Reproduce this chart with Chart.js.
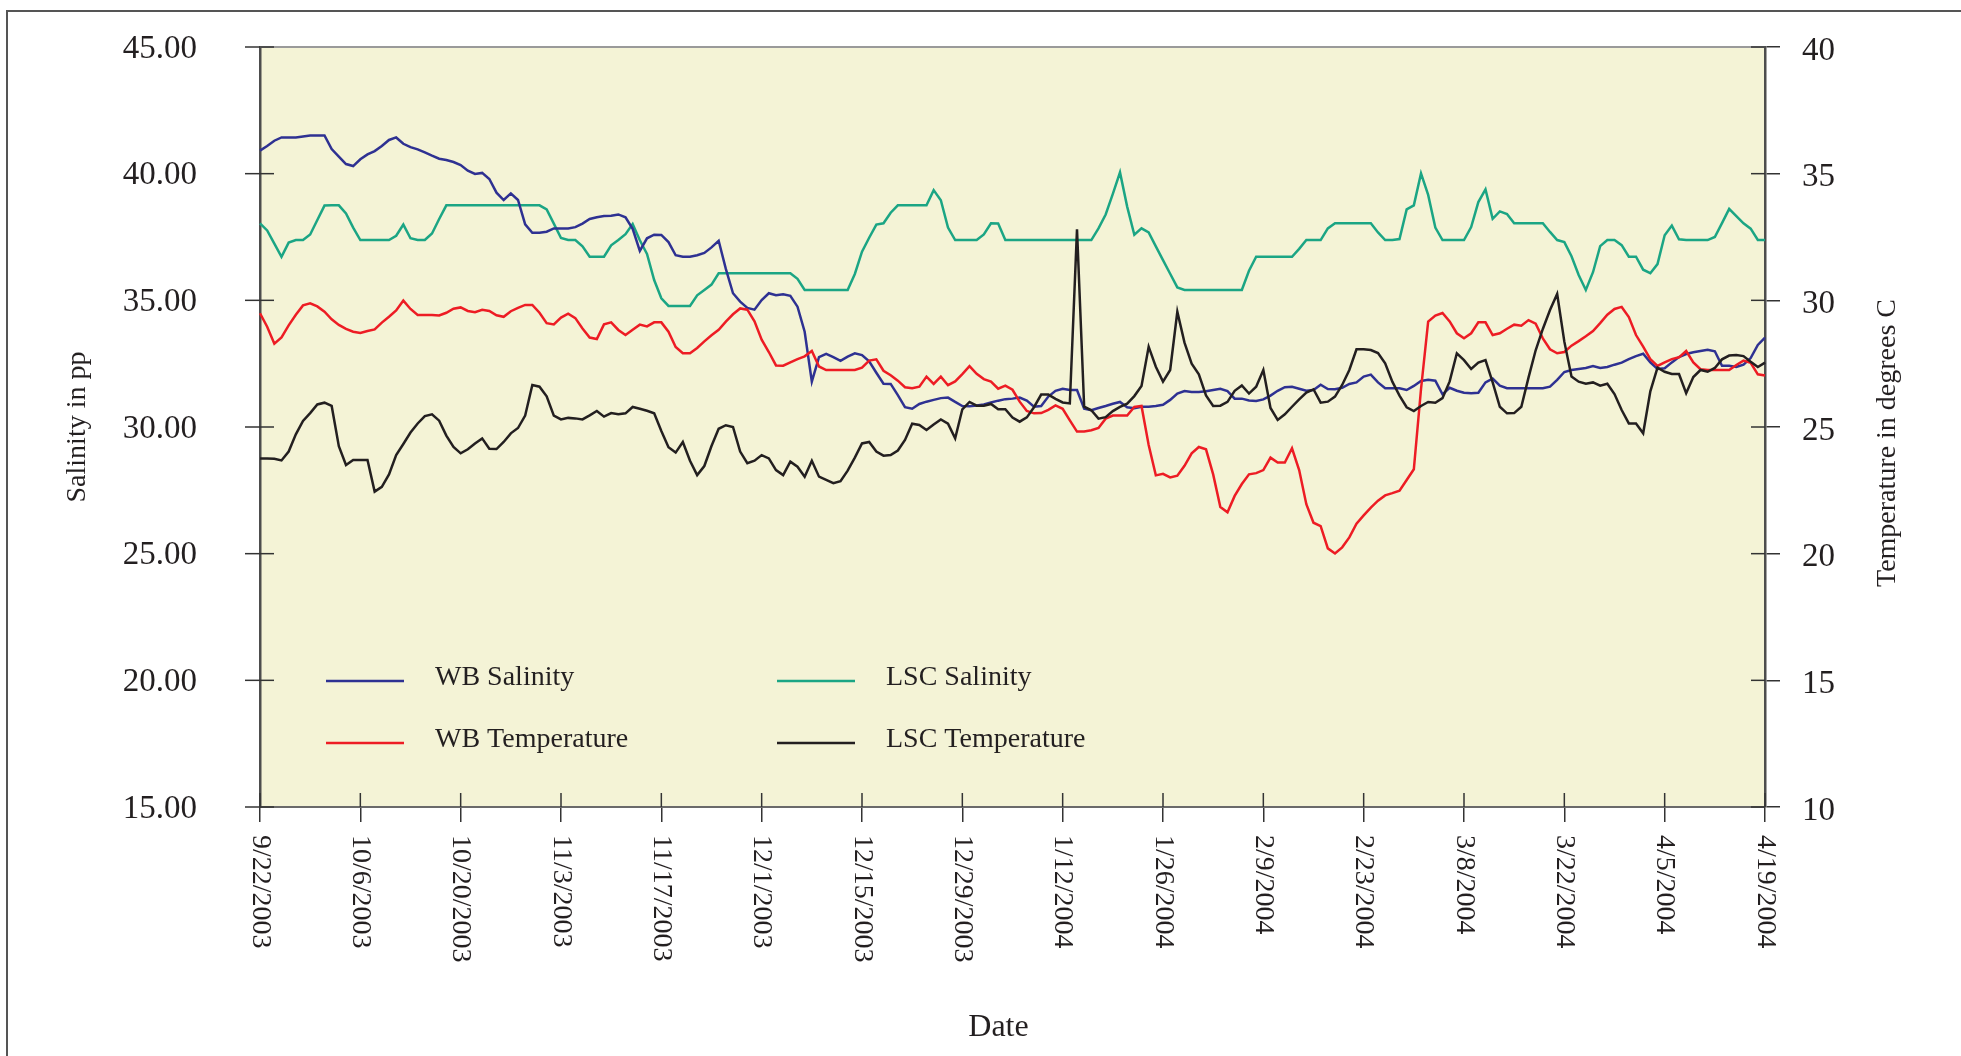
<!DOCTYPE html>
<html>
<head>
<meta charset="utf-8">
<title>WB and LSC salinity and temperature</title>
<script src="https://cdn.jsdelivr.net/npm/chart.js@4.4.1/dist/chart.umd.min.js"></script>
<style>
  html, body { margin: 0; padding: 0; background: #fff; overflow: hidden; }
  .frame { position: absolute; left: 6px; top: 10px; width: 2000px; height: 1100px; border: 2px solid #555; box-sizing: border-box; }
  canvas { position: absolute; left: 0; top: 0; }
</style>
</head>
<body>
<div class="frame"></div>
<canvas id="chart" width="1961" height="1056"></canvas>
<script>
// one value per day, 9/22/2003 .. 4/19/2004
const tickLabels = ['9/22/2003', '10/6/2003', '10/20/2003', '11/3/2003', '11/17/2003', '12/1/2003',
  '12/15/2003', '12/29/2003', '1/12/2004', '1/26/2004', '2/9/2004', '2/23/2004', '3/8/2004',
  '3/22/2004', '4/5/2004', '4/19/2004'];
const tickEvery = 14; // days between labels

const wbSalinity = [
  40.91, 41.09, 41.30, 41.43, 41.43, 41.43, 41.47, 41.51, 41.51, 41.51,
  40.97, 40.67, 40.38, 40.30, 40.57, 40.76, 40.89, 41.09, 41.33, 41.43,
  41.18, 41.05, 40.96, 40.84, 40.71, 40.59, 40.54, 40.46, 40.34, 40.12,
  39.99, 40.03, 39.79, 39.25, 38.96,
  39.22, 38.96, 38.00, 37.67, 37.67, 37.71, 37.84, 37.84, 37.84, 37.89,
  38.03, 38.21, 38.28, 38.33, 38.34, 38.39, 38.28, 37.82, 36.95, 37.45,
  37.59, 37.58, 37.30, 36.78, 36.72, 36.72, 36.78, 36.87, 37.09, 37.35,
  36.24, 35.28, 34.95, 34.70, 34.63,
  35.01, 35.28, 35.20, 35.24, 35.18, 34.75, 33.76, 31.79, 32.76, 32.89,
  32.76, 32.61, 32.78, 32.91, 32.84, 32.59, 32.14, 31.71, 31.70, 31.26,
  30.78, 30.72, 30.91, 31.00, 31.07, 31.14, 31.16, 30.99, 30.83, 30.82,
  30.85, 30.89, 30.97, 31.04, 31.10,
  31.12, 31.16, 31.04, 30.80, 30.83, 31.20, 31.43, 31.51, 31.46, 31.46,
  30.72, 30.66, 30.75, 30.83, 30.92, 30.99, 30.78, 30.74, 30.80, 30.80,
  30.83, 30.88, 31.07, 31.32, 31.42, 31.38, 31.38, 31.41, 31.46, 31.51,
  31.42, 31.12, 31.12, 31.05, 31.03,
  31.09, 31.24, 31.43, 31.57, 31.59, 31.51, 31.43, 31.46, 31.67, 31.50,
  31.49, 31.55, 31.70, 31.76, 31.99, 32.07, 31.76, 31.53, 31.53, 31.53,
  31.46, 31.62, 31.82, 31.86, 31.83, 31.29, 31.55, 31.43, 31.35, 31.33,
  31.35, 31.76, 31.91, 31.63, 31.53,
  31.53, 31.53, 31.53, 31.53, 31.53, 31.59, 31.86, 32.17, 32.25, 32.29,
  32.33, 32.41, 32.33, 32.37, 32.46, 32.54, 32.68, 32.80, 32.89, 32.55,
  32.29, 32.32, 32.55, 32.76, 32.88, 32.95, 33.00, 33.05, 32.99, 32.42,
  32.42, 32.37, 32.46, 32.72, 33.24, 33.53
];

const lscSalinity = [
  38.04, 37.76, 37.24, 36.72, 37.28, 37.38, 37.38, 37.60, 38.17, 38.74,
  38.75, 38.75, 38.43, 37.87, 37.38, 37.38, 37.38, 37.38, 37.38, 37.55,
  37.99, 37.45, 37.38, 37.38, 37.64, 38.21, 38.75, 38.75, 38.75, 38.75,
  38.75, 38.75, 38.75, 38.75, 38.75,
  38.75, 38.75, 38.75, 38.75, 38.75, 38.59, 38.03, 37.46, 37.38, 37.38,
  37.13, 36.72, 36.72, 36.72, 37.17, 37.38, 37.61, 38.01, 37.37, 36.83,
  35.80, 35.08, 34.78, 34.78, 34.78, 34.78, 35.20, 35.41, 35.62, 36.07,
  36.07, 36.07, 36.07, 36.07, 36.07,
  36.07, 36.07, 36.07, 36.07, 36.07, 35.85, 35.41, 35.41, 35.41, 35.41,
  35.41, 35.41, 35.41, 36.04, 36.92, 37.47, 37.99, 38.04, 38.46, 38.75,
  38.75, 38.75, 38.75, 38.75, 39.35, 38.95, 37.87, 37.38, 37.38, 37.38,
  37.38, 37.60, 38.04, 38.03, 37.38,
  37.38, 37.38, 37.38, 37.38, 37.38, 37.38, 37.38, 37.38, 37.38, 37.38,
  37.38, 37.38, 37.84, 38.39, 39.20, 40.05, 38.70, 37.59, 37.84, 37.68,
  37.13, 36.59, 36.05, 35.51, 35.41, 35.41, 35.41, 35.41, 35.41, 35.41,
  35.41, 35.41, 35.41, 36.17, 36.72,
  36.72, 36.72, 36.72, 36.72, 36.72, 37.03, 37.38, 37.38, 37.38, 37.84,
  38.04, 38.04, 38.04, 38.04, 38.04, 38.04, 37.68, 37.38, 37.38, 37.42,
  38.59, 38.75, 40.01, 39.16, 37.87, 37.38, 37.38, 37.38, 37.38, 37.89,
  38.88, 39.38, 38.22, 38.51, 38.41,
  38.04, 38.04, 38.04, 38.04, 38.04, 37.70, 37.38, 37.30, 36.74, 36.00,
  35.41, 36.11, 37.14, 37.38, 37.38, 37.18, 36.72, 36.72, 36.21, 36.07,
  36.43, 37.57, 37.95, 37.41, 37.38, 37.38, 37.38, 37.38, 37.50, 38.05,
  38.61, 38.32, 38.04, 37.83, 37.38, 37.38
];

const wbTemperature = [
  29.49, 28.96, 28.29, 28.54, 29.01, 29.43, 29.80, 29.88, 29.76, 29.55,
  29.25, 29.03, 28.87, 28.76, 28.71, 28.79, 28.85, 29.12, 29.35, 29.60,
  29.99, 29.66, 29.42, 29.42, 29.42, 29.40, 29.51, 29.67, 29.72, 29.58,
  29.53, 29.63, 29.58, 29.41, 29.35,
  29.57, 29.70, 29.82, 29.82, 29.51, 29.10, 29.05, 29.32, 29.47, 29.30,
  28.89, 28.53, 28.47, 29.05, 29.13, 28.83, 28.63, 28.84, 29.04, 28.97,
  29.13, 29.13, 28.76, 28.16, 27.91, 27.91, 28.12, 28.38, 28.62, 28.84,
  29.16, 29.45, 29.68, 29.63, 29.17,
  28.45, 27.96, 27.43, 27.42, 27.55, 27.68, 27.79, 28.00, 27.39, 27.25,
  27.25, 27.25, 27.25, 27.25, 27.34, 27.62, 27.67, 27.22, 27.04, 26.83,
  26.57, 26.53, 26.59, 26.99, 26.70, 26.99, 26.65, 26.80, 27.09, 27.40,
  27.10, 26.89, 26.79, 26.51, 26.63,
  26.47, 26.00, 25.63, 25.54, 25.55, 25.68, 25.85, 25.72, 25.26, 24.82,
  24.82, 24.87, 24.96, 25.33, 25.45, 25.45, 25.45, 25.79, 25.83, 24.29,
  23.09, 23.15, 23.01, 23.08, 23.47, 23.96, 24.21, 24.12, 23.13, 21.84,
  21.63, 22.28, 22.75, 23.13, 23.18,
  23.30, 23.79, 23.60, 23.60, 24.16, 23.30, 21.95, 21.22, 21.09, 20.21,
  20.01, 20.25, 20.64, 21.18, 21.51, 21.82, 22.09, 22.30, 22.39, 22.49,
  22.91, 23.33, 26.49, 29.16, 29.40, 29.50, 29.17, 28.70, 28.50, 28.70,
  29.13, 29.13, 28.63, 28.70, 28.88,
  29.04, 29.00, 29.22, 29.08, 28.50, 28.07, 27.91, 27.96, 28.21, 28.39,
  28.58, 28.79, 29.10, 29.43, 29.66, 29.74, 29.34, 28.63, 28.17, 27.68,
  27.41, 27.55, 27.68, 27.75, 28.00, 27.55, 27.28, 27.25, 27.25, 27.25,
  27.25, 27.45, 27.62, 27.53, 27.08, 27.03
];

const lscTemperature = [
  23.76, 23.76, 23.75, 23.68, 24.03, 24.71, 25.24, 25.55, 25.89, 25.96,
  25.83, 24.24, 23.50, 23.70, 23.70, 23.70, 22.45, 22.64, 23.13, 23.89,
  24.33, 24.78, 25.14, 25.43, 25.50, 25.25, 24.66, 24.21, 23.96, 24.12,
  24.35, 24.55, 24.14, 24.13, 24.41,
  24.75, 24.96, 25.45, 26.66, 26.59, 26.21, 25.45, 25.30, 25.36, 25.34,
  25.30, 25.46, 25.63, 25.41, 25.55, 25.50, 25.54, 25.79, 25.72, 25.64,
  25.54, 24.84, 24.20, 23.99, 24.41, 23.67, 23.10, 23.46, 24.25, 24.93,
  25.07, 25.00, 24.03, 23.57, 23.67,
  23.89, 23.76, 23.30, 23.10, 23.63, 23.43, 23.04, 23.67, 23.04, 22.91,
  22.78, 22.86, 23.28, 23.79, 24.35, 24.41, 24.03, 23.87, 23.89, 24.07,
  24.49, 25.13, 25.08, 24.88, 25.10, 25.30, 25.13, 24.55, 25.70, 25.99,
  25.84, 25.84, 25.91, 25.70, 25.70,
  25.37, 25.21, 25.38, 25.78, 26.28, 26.28, 26.11, 25.97, 25.93, 32.80,
  25.80, 25.66, 25.33, 25.39, 25.63, 25.79, 25.92, 26.22, 26.62, 28.17,
  27.38, 26.79, 27.25, 29.55, 28.33, 27.50, 27.08, 26.25, 25.83, 25.84,
  25.99, 26.43, 26.64, 26.32, 26.59,
  27.25, 25.75, 25.28, 25.50, 25.80, 26.09, 26.36, 26.49, 25.96, 26.00,
  26.20, 26.66, 27.25, 28.07, 28.07, 28.04, 27.92, 27.51, 26.79, 26.24,
  25.78, 25.63, 25.83, 25.99, 25.96, 26.14, 26.80, 27.91, 27.64, 27.29,
  27.54, 27.64, 26.76, 25.80, 25.54,
  25.55, 25.80, 26.95, 28.03, 28.87, 29.62, 30.25, 28.37, 26.99, 26.79,
  26.71, 26.76, 26.63, 26.71, 26.30, 25.67, 25.14, 25.14, 24.75, 26.41,
  27.34, 27.18, 27.09, 27.09, 26.33, 26.97, 27.25, 27.18, 27.33, 27.67,
  27.82, 27.84, 27.80, 27.58, 27.37, 27.54
];

const days = wbSalinity.map((_, i) => i);

const serif = '"Liberation Serif", "DejaVu Serif", "Times New Roman", serif';
const ink = '#231f20';
Chart.defaults.font.family = serif;
Chart.defaults.color = ink;

// legend sits inside the plot, two columns x two rows
const legendSlots = [
  { label: 'WB Salinity', col: 0, row: 0 },
  { label: 'WB Temperature', col: 0, row: 1 },
  { label: 'LSC Salinity', col: 1, row: 0 },
  { label: 'LSC Temperature', col: 1, row: 1 }
];

const paperPlugin = {
  id: 'paper',
  beforeDraw(chart) {
    const { ctx, chartArea: a } = chart;
    ctx.save();
    ctx.fillStyle = '#f4f3d6';
    ctx.fillRect(a.left, a.top, a.right - a.left, a.bottom - a.top);
    ctx.restore();
  },
  afterDraw(chart) {
    const { ctx, chartArea: a, scales } = chart;
    const seg = (x1, y1, x2, y2) => { ctx.beginPath(); ctx.moveTo(x1, y1); ctx.lineTo(x2, y2); ctx.stroke(); };
    ctx.save();

    // top edge of the plot
    ctx.strokeStyle = '#9a9a9a';
    ctx.lineWidth = 2;
    seg(a.left, a.top, a.right, a.top);

    // tick marks crossing the axes
    ctx.strokeStyle = '#333';
    ctx.lineWidth = 1.5;
    scales.y.ticks.forEach(t => { const y = scales.y.getPixelForValue(t.value); seg(a.left - 15, y, a.left + 14, y); });
    scales.y1.ticks.forEach(t => { const y = scales.y1.getPixelForValue(t.value); seg(a.right - 14, y, a.right, y); });
    tickLabels.forEach((_, i) => { const x = scales.x.getPixelForValue(i * tickEvery); seg(x, a.bottom - 14, x, a.bottom); });

    // date labels, reading downwards
    ctx.fillStyle = ink;
    ctx.font = '28px ' + serif;
    ctx.textAlign = 'left';
    ctx.textBaseline = 'middle';
    tickLabels.forEach((lab, i) => {
      const x = scales.x.getPixelForValue(i * tickEvery);
      ctx.save();
      ctx.translate(x, a.bottom + 28);
      ctx.rotate(Math.PI / 2);
      ctx.fillText(lab, 0, 0);
      ctx.restore();
    });

    // right axis title reads upwards
    ctx.save();
    ctx.translate(1888, (a.top + a.bottom) / 2 + 16);
    ctx.rotate(-Math.PI / 2);
    ctx.textAlign = 'center';
    ctx.fillText('Temperature in degrees C', 0, 0);
    ctx.restore();

    // x axis title, a little left of centre as in the original
    ctx.save();
    ctx.font = '32px ' + serif;
    ctx.textAlign = 'center';
    ctx.fillText('Date', (a.left + a.right) / 2 - 14, 1028);
    ctx.restore();

    // legend
    ctx.textBaseline = 'alphabetic';
    legendSlots.forEach(slot => {
      const ds = chart.data.datasets.find(d => d.label === slot.label);
      const x0 = a.left + 66 + slot.col * 451;
      const y0 = a.top + 634 + slot.row * 62;
      ctx.strokeStyle = ds.borderColor;
      ctx.lineWidth = 2.5;
      seg(x0, y0, x0 + 78, y0);
      ctx.fillStyle = ink;
      ctx.fillText(ds.label, x0 + 109, y0 + 4);
    });
    ctx.restore();
  }
};

const lineStyle = { borderWidth: 2.5, pointRadius: 0, tension: 0, fill: false };

new Chart(document.getElementById('chart'), {
  type: 'line',
  data: {
    labels: days,
    datasets: [
      { ...lineStyle, label: 'WB Salinity', data: wbSalinity, borderColor: '#2e3192', yAxisID: 'y', order: 2 },
      { ...lineStyle, label: 'WB Temperature', data: wbTemperature, borderColor: '#ed1c24', yAxisID: 'y1', order: 1 },
      { ...lineStyle, label: 'LSC Salinity', data: lscSalinity, borderColor: '#1ba584', yAxisID: 'y', order: 3 },
      { ...lineStyle, label: 'LSC Temperature', data: lscTemperature, borderColor: '#231f20', yAxisID: 'y1', order: 0 }
    ]
  },
  options: {
    responsive: false,
    animation: false,
    devicePixelRatio: 1,
    events: [],
    layout: { padding: { top: 47, right: 0, bottom: 0, left: 0 } },
    plugins: { legend: { display: false }, tooltip: { enabled: false } },
    scales: {
      x: {
        type: 'category',
        offset: false,
        ticks: { display: false, autoSkip: false },
        grid: {
          offset: false,
          drawOnChartArea: false,
          tickLength: 15,
          lineWidth: 1.5,
          color: c => (c.index % tickEvery === 0 ? '#333' : 'rgba(0,0,0,0)')
        },
        border: { color: '#6a6a6a', width: 2 },
        afterFit: s => { s.height = 249; }
      },
      y: {
        position: 'left',
        min: 15,
        max: 45,
        // the long invisible tick sets the label gap; visible ticks are drawn by the plugin
        ticks: { stepSize: 5, callback: v => v.toFixed(2), font: { size: 33 }, color: ink, padding: 0, labelOffset: 2 },
        grid: { drawOnChartArea: false, tickLength: 63, color: 'rgba(0,0,0,0)' },
        border: { color: '#4d4d4d', width: 2.5 },
        title: { display: true, text: 'Salinity in pp', font: { size: 28 }, color: ink, padding: { top: 61, bottom: 0 } },
        afterFit: s => { s.width = 260; }
      },
      y1: {
        position: 'right',
        min: 10,
        max: 40,
        ticks: { stepSize: 5, font: { size: 33 }, color: ink, padding: 22, labelOffset: 4 },
        grid: { drawOnChartArea: false, tickLength: 15, color: '#333', lineWidth: 1.5 },
        border: { color: '#4d4d4d', width: 2.5 },
        afterFit: s => { s.width = 196; }
      }
    }
  },
  plugins: [paperPlugin]
});
</script>
</body>
</html>
